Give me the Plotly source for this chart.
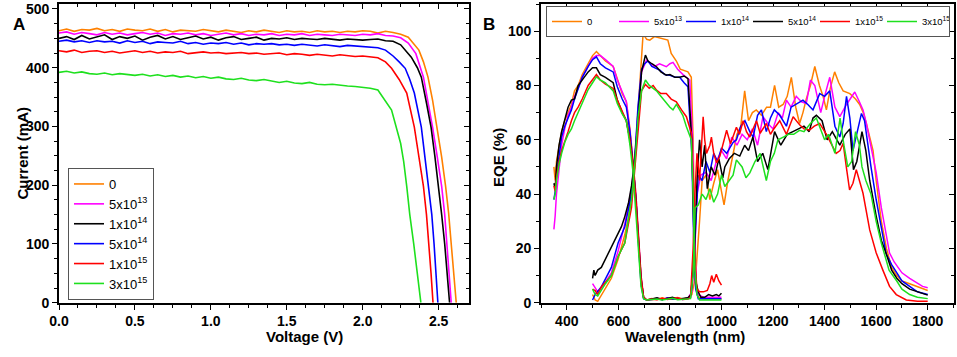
import plotly.graph_objects as go

W, H = 957, 357

# ---------------- Panel A: I-V curves ----------------
volt_plateau = [0.00, 0.05, 0.10, 0.15, 0.20, 0.25, 0.30, 0.35, 0.40, 0.45,
                0.50, 0.55, 0.60, 0.65, 0.70, 0.75, 0.80, 0.85, 0.90, 0.95,
                1.00, 1.05, 1.10, 1.15, 1.20, 1.25, 1.30, 1.35, 1.40, 1.45,
                1.50, 1.55, 1.60, 1.65, 1.70, 1.75, 1.80, 1.85, 1.90, 1.95, 2.00]

cur_0 = [463, 466, 462, 465, 464, 467, 463, 465, 462, 466, 464, 463, 466, 462, 465, 461, 464, 463, 462, 465,
         463, 461, 464, 462, 460, 463, 461, 464, 462, 460, 463, 461, 462, 460, 463, 461, 462, 460, 462, 461, 463]
cur_5e13 = [459, 461, 457, 460, 458, 456, 460, 457, 459, 456, 458, 460, 457, 459, 455, 458, 457, 459, 456, 458,
            455, 457, 459, 456, 458, 455, 457, 456, 458, 455, 457, 456, 458, 455, 457, 456, 455, 457, 456, 455, 457]
cur_1e14 = [450, 453, 448, 455, 449, 452, 456, 448, 453, 450, 454, 447, 452, 455, 449, 453, 448, 451, 454, 449,
            452, 447, 451, 453, 448, 450, 452, 447, 450, 449, 451, 448, 450, 449, 448, 450, 449, 447, 449, 448, 447]
cur_5e14 = [445, 447, 444, 446, 443, 446, 444, 445, 442, 446, 443, 445, 441, 444, 443, 442, 445, 441, 443, 440,
            442, 441, 443, 440, 442, 439, 441, 440, 441, 439, 440, 438, 440, 439, 437, 439, 438, 436, 438, 437, 436]
cur_1e15 = [429, 427, 430, 426, 428, 429, 426, 428, 425, 427, 429, 426, 428, 425, 427, 426, 428, 424, 426, 427,
            425, 426, 424, 425, 426, 424, 425, 423, 424, 425, 422, 424, 423, 421, 423, 422, 420, 422, 421, 419, 420]
cur_3e15 = [392, 394, 391, 393, 390, 389, 391, 388, 390, 389, 387, 389, 386, 388, 385, 387, 384, 386, 383, 385,
            382, 384, 381, 380, 382, 379, 378, 380, 377, 375, 377, 374, 373, 375, 372, 371, 372, 370, 369, 368, 367]

knee_0 = [(2.05, 462), (2.10, 459), (2.15, 462), (2.20, 460), (2.25, 457), (2.30, 452), (2.34, 440), (2.37, 430),
          (2.40, 410), (2.43, 384), (2.46, 345), (2.49, 299), (2.52, 248), (2.546, 198), (2.566, 152),
          (2.583, 100), (2.60, 49), (2.616, 0)]
knee_5e13 = [(2.05, 456), (2.10, 458), (2.15, 455), (2.20, 454), (2.25, 451), (2.30, 442), (2.35, 424), (2.40, 384),
             (2.43, 342), (2.46, 299), (2.49, 250), (2.52, 198), (2.54, 150), (2.555, 100), (2.57, 50), (2.583, 0)]
knee_1e14 = [(2.05, 448), (2.10, 449), (2.15, 446), (2.20, 445), (2.25, 439), (2.29, 428), (2.32, 418), (2.36, 400),
             (2.386, 384), (2.42, 340), (2.45, 299), (2.475, 250), (2.50, 198), (2.52, 150), (2.54, 100),
             (2.557, 50), (2.572, 0)]
knee_5e14 = [(2.05, 436), (2.10, 434), (2.15, 430), (2.20, 420), (2.24, 410), (2.28, 399), (2.31, 380), (2.34, 357),
             (2.386, 299), (2.41, 250), (2.436, 198), (2.455, 150), (2.47, 100), (2.483, 50), (2.495, 0)]
knee_1e15 = [(2.05, 419), (2.10, 417), (2.15, 410), (2.19, 399), (2.24, 380), (2.29, 357), (2.34, 299), (2.37, 250),
             (2.40, 198), (2.42, 150), (2.436, 100), (2.45, 50), (2.463, 0)]
knee_3e15 = [(2.05, 365), (2.10, 362), (2.13, 350), (2.19, 328), (2.25, 271), (2.27, 240), (2.29, 198), (2.31, 150),
             (2.336, 100), (2.36, 50), (2.383, 0)]

# ---------------- Panel B: EQE ----------------
wl_top = [350, 355, 360, 370, 380, 392, 405, 418, 430, 444, 460, 483, 500, 515, 530, 550, 580, 596, 615, 631,
          645, 657, 668, 678, 688, 698, 710, 730, 750, 770, 790, 810, 830, 850, 870]
eqe_top_0 = [50, 45, 52, 58, 63, 67, 70, 73, 78, 80, 84, 88, 91, 92.5, 91, 89, 87, 82, 77, 74,
             64, 52, 40, 25, 10, 2, 1, 1.5, 1.2, 1.8, 1.3, 1.6, 1.9, 1.4, 1.8]
eqe_top_5e13 = [27, 32, 40, 50, 58, 64, 69, 72, 76, 79, 83, 87, 90, 91, 91, 89.5, 87, 82, 78, 74,
                63, 52, 40, 25, 10, 2, 1, 1.3, 1.6, 1.2, 1.8, 1.4, 1.6, 1.3, 1.7]
eqe_top_1e14 = [38, 41, 47, 55, 61, 65, 68, 71, 75, 79, 83, 87, 89.5, 90.5, 88, 86.5, 85, 79.5, 75, 72,
                63, 51, 38, 22, 7, 1.5, 1, 1.2, 1.5, 1.1, 1.7, 1.3, 1.5, 1.2, 1.6]
eqe_top_5e14 = [44, 42, 50, 58, 63, 67, 72, 74.6, 75, 80, 82, 85, 86.5, 86.5, 84, 83, 81, 74.6, 70, 67,
                60, 51, 38, 23, 9, 2, 1, 1.4, 1.8, 1.2, 1.5, 2, 1.3, 1.5, 1.8]
eqe_top_1e15 = [43, 41, 46, 52, 56, 59, 63, 67, 70, 72, 75, 80, 82, 84, 82, 80.5, 78.9, 74.6, 70.5, 67,
                60, 51, 38, 23, 9, 2, 1, 1.3, 1.1, 1.6, 1.2, 1.5, 1.8, 1.2, 1.4]
eqe_top_3e15 = [38, 40, 45, 51, 55, 59, 62, 64, 67, 70, 74, 78.5, 81, 83.2, 82, 81, 78, 73.4, 69.5, 67,
                58, 48, 33, 18, 6, 1.5, 1, 1.2, 1.4, 1, 1.3, 1.6, 1.1, 1.3, 1.5]

bot_0 = [(885, 3), (900, 10), (915, 30), (925, 45), (940, 47), (955, 38), (970, 44), (985, 49), (1000, 41),
         (1010, 36), (1025, 45), (1040, 52), (1060, 62), (1075, 65), (1090, 78), (1105, 67), (1120, 70),
         (1135, 71), (1155, 69), (1175, 72), (1190, 72), (1206, 80), (1222, 72), (1239, 73), (1255, 76),
         (1271, 83), (1288, 72), (1303, 66), (1316, 70), (1329, 75), (1345, 80), (1362, 87), (1380, 80),
         (1394, 76), (1407, 71), (1422, 79), (1439, 85), (1455, 81), (1472, 78), (1498, 77), (1520, 75),
         (1536, 73), (1550, 70), (1562, 66), (1575, 61), (1588, 56), (1600, 45), (1620, 30), (1640, 20),
         (1660, 13), (1680, 10), (1700, 8), (1730, 7), (1760, 6), (1800, 4.5)]
bot_5e13 = [(885, 4), (895, 15), (905, 40), (920, 47), (940, 48), (960, 45), (980, 52), (1000, 56), (1020, 53),
            (1040, 61), (1060, 58), (1080, 62), (1100, 60), (1120, 64), (1140, 58), (1161, 68.5), (1180, 66),
            (1200, 64), (1220, 70), (1236, 68), (1252, 74.6), (1270, 72), (1290, 76), (1310, 74), (1329, 73.4),
            (1345, 82), (1362, 80), (1385, 70), (1400, 76), (1420, 83), (1440, 72), (1459, 68.5), (1485, 73),
            (1517, 77.6), (1535, 74), (1549, 71), (1562, 66), (1575, 60), (1590, 52), (1600, 48), (1620, 35),
            (1640, 24), (1652, 18.3), (1670, 15), (1700, 11), (1730, 9), (1760, 7), (1780, 6), (1800, 5.5)]
bot_1e14 = [(880, 2), (893, 15), (902, 35), (910, 47), (925, 45), (940, 52), (955, 48), (970, 55), (985, 52),
            (1000, 57), (1020, 55), (1045, 59), (1058, 60), (1075, 65), (1091, 67), (1110, 63), (1123, 61),
            (1140, 69), (1155, 71), (1174, 63), (1190, 68), (1205, 71), (1226, 69), (1252, 65), (1270, 72),
            (1290, 73), (1316, 74.6), (1335, 73), (1355, 71), (1381, 77), (1400, 76), (1420, 78), (1440, 65),
            (1459, 61), (1472, 66), (1485, 76), (1498, 68), (1510, 56), (1525, 62), (1543, 69.7), (1555, 67),
            (1562, 62), (1580, 50), (1600, 38), (1620, 27), (1639, 18), (1660, 14), (1680, 11), (1700, 8),
            (1730, 6), (1760, 4), (1800, 3)]
bot_5e14 = [(882, 3), (895, 20), (905, 45), (915, 60), (925, 50), (935, 58), (945, 42), (960, 50), (975, 47),
            (990, 53), (1005, 46), (1013, 50), (1030, 53), (1050, 55), (1071, 54), (1090, 58), (1105, 56),
            (1122, 61), (1140, 52), (1160, 55), (1180, 49), (1206, 63), (1230, 58), (1255, 62), (1277, 63),
            (1300, 64), (1320, 65), (1340, 63), (1355, 68), (1368, 69), (1390, 67), (1410, 60), (1430, 63),
            (1459, 58), (1480, 62), (1498, 64), (1512, 49), (1525, 52), (1545, 63), (1560, 56), (1575, 45),
            (1600, 32), (1620, 23), (1639, 18), (1660, 12), (1680, 9), (1700, 7), (1730, 5), (1760, 4), (1800, 2.8)]
bot_1e15 = [(880, 2), (890, 20), (897, 40), (905, 55), (915, 45), (922, 55), (929, 68.5), (935, 60), (942, 55),
            (955, 58), (961, 61), (970, 55), (981, 51.5), (994, 54), (1010, 60), (1020, 63.5), (1035, 58.5),
            (1058, 64.6), (1070, 62), (1084, 67), (1097, 63), (1110, 61), (1123, 64), (1136, 67), (1150, 62.4),
            (1174, 66), (1190, 62), (1200, 63.6), (1226, 67), (1252, 62), (1278, 68.5), (1304, 65.4), (1320, 64),
            (1342, 63.6), (1360, 65), (1381, 66), (1407, 62), (1433, 57.5), (1445, 55), (1460, 56), (1472, 58.7),
            (1485, 49.5), (1497, 41.5), (1510, 44), (1523, 49), (1535, 45), (1549, 40.3), (1575, 26.8),
            (1600, 18.4), (1626, 12), (1652, 6), (1678, 3), (1717, 1), (1760, 0.5), (1800, 0.5)]
bot_3e15 = [(880, 1.5), (890, 10), (898, 35), (910, 36), (925, 40), (940, 38), (955, 42), (970, 37), (985, 40),
            (1000, 47), (1013, 42.8), (1030, 45), (1045, 47), (1058, 52.6), (1080, 50), (1095, 46), (1110, 47.8),
            (1130, 52), (1150, 55), (1174, 45), (1190, 52), (1205, 55), (1219, 60), (1240, 61), (1260, 62),
            (1280, 62), (1303, 63.5), (1320, 63), (1345, 66), (1368, 68), (1385, 64), (1400, 60), (1415, 62),
            (1440, 55), (1460, 68), (1475, 58), (1490, 50), (1505, 52), (1520, 63), (1535, 58), (1545, 50),
            (1560, 45), (1580, 40), (1600, 30), (1620, 22), (1632, 18), (1650, 12), (1680, 8), (1700, 5),
            (1730, 3), (1760, 2), (1800, 1.5)]

mid_0 = [(500, 3), (510, 1), (520, 0.5), (535, 3), (550, 5), (573, 9), (599, 16), (625, 25), (640, 32), (651, 40),
         (663, 50), (676, 70), (688, 90), (696, 99), (710, 97), (722, 96.7), (740, 98), (760, 97.5), (775, 97),
         (792, 96.7), (805, 91.8), (825, 89), (840, 86), (851, 85.6), (870, 85), (883, 83), (890, 60), (897, 20),
         (903, 5), (910, 2), (930, 1.5), (960, 1.5), (1000, 1.5)]
mid_5e13 = [(500, 7), (520, 4), (540, 6), (573, 11), (599, 19), (625, 29), (651, 42), (663, 52), (676, 70),
            (690, 85), (709, 89.3), (725, 88), (740, 87), (760, 88), (786, 86.9), (800, 88), (812, 88.5), (830, 86),
            (851, 84), (877, 82), (888, 60), (895, 25), (903, 6), (910, 3), (930, 2), (960, 2), (1000, 2)]
mid_1e14 = [(500, 1), (510, 3), (535, 6), (573, 13), (599, 22), (625, 28), (651, 40), (663, 52), (676, 72),
            (690, 86), (702, 88), (715, 89), (730, 87), (760, 85.7), (780, 84), (798, 83.8), (820, 83), (838, 83),
            (855, 81), (870, 79.5), (885, 55), (893, 20), (900, 5), (910, 1.5), (930, 1.5), (960, 1.5), (1000, 1.5)]
mid_5e14 = [(500, 9), (505, 12), (510, 10), (520, 12), (534, 13), (550, 16), (573, 20.7), (585, 23), (599, 25.7),
            (612, 28), (625, 31.7), (640, 37), (651, 43), (663, 52), (676, 67), (690, 85), (705, 91.2), (715, 89),
            (730, 88), (748, 86.9), (765, 85), (786, 83.8), (800, 84), (820, 83), (838, 83), (855, 83.5),
            (870, 82.5), (885, 60), (893, 25), (900, 8), (910, 4), (920, 2), (935, 2), (950, 3), (965, 2.5),
            (980, 3), (990, 2.5), (1000, 3.5)]
mid_1e15 = [(500, 5), (510, 4.5), (520, 3), (535, 6), (550, 7.5), (573, 10), (599, 17), (625, 22), (651, 35),
            (663, 48), (676, 65), (690, 78), (705, 80.4), (720, 79), (735, 80), (748, 78.3), (765, 77), (786, 77),
            (805, 75), (825, 74), (845, 71), (864, 68.5), (883, 62.5), (890, 45), (897, 15), (905, 5), (915, 4),
            (930, 4), (945, 4.5), (955, 7), (962, 10), (970, 7.5), (980, 10.5), (990, 8), (1000, 6.5)]
mid_3e15 = [(500, 5), (510, 3), (520, 2.5), (535, 5), (550, 7), (573, 10), (599, 17), (625, 22), (651, 38),
            (663, 50), (676, 68), (690, 78), (705, 82), (720, 80), (735, 79), (748, 78), (765, 76), (786, 73.5),
            (800, 72), (812, 71), (825, 73), (838, 71), (850, 69), (864, 64.8), (883, 60), (890, 40), (897, 12),
            (905, 3), (915, 1), (940, 1), (970, 1), (1000, 1)]

ORANGE, MAGENTA, BLACK, BLUE, RED, GREEN = "#FF8000", "#FF00FF", "#000000", "#0000FF", "#FF0000", "#1EE01E"

labels = {
    "0": "0",
    "5e13": "5x10<sup>13</sup>",
    "1e14": "1x10<sup>14</sup>",
    "5e14": "5x10<sup>14</sup>",
    "1e15": "1x10<sup>15</sup>",
    "3e15": "3x10<sup>15</sup>",
}

fig = go.Figure()

iv_series = [
    ("0", cur_0, knee_0, ORANGE),
    ("5e13", cur_5e13, knee_5e13, MAGENTA),
    ("1e14", cur_1e14, knee_1e14, BLACK),
    ("5e14", cur_5e14, knee_5e14, BLUE),
    ("1e15", cur_1e15, knee_1e15, RED),
    ("3e15", cur_3e15, knee_3e15, GREEN),
]
for key, cur, knee, col in iv_series:
    xs = list(volt_plateau) + [p[0] for p in knee]
    ys = list(cur) + [p[1] for p in knee]
    fig.add_trace(go.Scatter(x=xs, y=ys, mode="lines", name=labels[key],
                             line=dict(color=col, width=1.6),
                             xaxis="x", yaxis="y", legend="legend"))

eqe_series = [
    ("0", eqe_top_0, bot_0, mid_0, ORANGE),
    ("5e13", eqe_top_5e13, bot_5e13, mid_5e13, MAGENTA),
    ("1e14", eqe_top_1e14, bot_1e14, mid_1e14, BLUE),
    ("5e14", eqe_top_5e14, bot_5e14, mid_5e14, BLACK),
    ("1e15", eqe_top_1e15, bot_1e15, mid_1e15, RED),
    ("3e15", eqe_top_3e15, bot_3e15, mid_3e15, GREEN),
]
for key, top, bot, mid, col in eqe_series:
    xs = list(wl_top) + [p[0] for p in bot] + [None] + [p[0] for p in mid]
    ys = list(top) + [p[1] for p in bot] + [None] + [p[1] for p in mid]
    fig.add_trace(go.Scatter(x=xs, y=ys, mode="lines", name=labels[key],
                             line=dict(color=col, width=1.5), connectgaps=False,
                             xaxis="x2", yaxis="y2", legend="legend2"))

# dummy traces to activate mirror axes with inward ticks
fig.add_trace(go.Scatter(x=[None], y=[None], xaxis="x3", yaxis="y3", showlegend=False, hoverinfo="skip"))
fig.add_trace(go.Scatter(x=[None], y=[None], xaxis="x4", yaxis="y4", showlegend=False, hoverinfo="skip"))

FONT = "Liberation Sans, Arial, sans-serif"
tickfont = dict(family=FONT, size=14, color="black", weight="bold")


def px(x):
    return x / W


def py(y):
    return 1 - y / H


y_dom = [py(302.7), py(4)]
xA = [px(59), px(469)]
xB = [px(541), px(953.5)]

axis_common = dict(showgrid=False, zeroline=False, showline=True, linecolor="black", linewidth=1.6,
                   ticks="outside", ticklen=5, tickwidth=1.4, tickcolor="black", tickfont=tickfont,
                   automargin=False, fixedrange=True)
mirror_common = dict(showticklabels=False, showgrid=False, zeroline=False, showline=True, linecolor="black",
                     linewidth=1.6, ticks="inside", ticklen=5, tickwidth=1.4, tickcolor="black",
                     fixedrange=True, automargin=False)

fig.update_layout(
    width=W, height=H, margin=dict(l=0, r=0, t=0, b=0, autoexpand=False),
    paper_bgcolor="white", plot_bgcolor="white", showlegend=True,
    xaxis=dict(domain=xA, range=[0, 2.7], dtick=0.5, tick0=0, tickformat=".1f", anchor="y",
               minor=dict(dtick=0.125, ticks="outside", ticklen=3, tickwidth=1.2, tickcolor="black"),
               **axis_common),
    yaxis=dict(domain=y_dom, range=[0, 508.5], dtick=100, tick0=0, anchor="x",
               minor=dict(dtick=25, ticks="outside", ticklen=3, tickwidth=1.2, tickcolor="black"),
               **axis_common),
    xaxis3=dict(overlaying="x", side="top", anchor="y", range=[0, 2.7], dtick=0.5, tick0=0,
                minor=dict(dtick=0.125, ticks="inside", ticklen=3, tickwidth=1.2, tickcolor="black"),
                **mirror_common),
    yaxis3=dict(overlaying="y", side="right", anchor="x3", range=[0, 508.5], dtick=100, tick0=0,
                minor=dict(dtick=25, ticks="inside", ticklen=3, tickwidth=1.2, tickcolor="black"),
                **mirror_common),
    xaxis2=dict(domain=xB, range=[300, 1900], dtick=200, tick0=0, anchor="y2",
                minor=dict(dtick=100, ticks="outside", ticklen=3, tickwidth=1.2, tickcolor="black"),
                **axis_common),
    yaxis2=dict(domain=y_dom, range=[0, 110], dtick=20, tick0=0, anchor="x2",
                minor=dict(dtick=10, ticks="outside", ticklen=3, tickwidth=1.2, tickcolor="black"),
                **axis_common),
    xaxis4=dict(overlaying="x2", side="top", anchor="y2", range=[300, 1900], dtick=200, tick0=0,
                minor=dict(dtick=100, ticks="inside", ticklen=3, tickwidth=1.2, tickcolor="black"),
                **mirror_common),
    yaxis4=dict(overlaying="y2", side="right", anchor="x4", range=[0, 110], dtick=20, tick0=0,
                minor=dict(dtick=10, ticks="inside", ticklen=3, tickwidth=1.2, tickcolor="black"),
                **mirror_common),
    legend=dict(x=px(68), y=py(168), xanchor="left", yanchor="top", bgcolor="white",
                bordercolor="#555555", borderwidth=1, tracegroupgap=0,
                font=dict(family=FONT, size=13, color="black"), itemwidth=30),
    legend2=dict(orientation="h", x=px(546), y=py(6), xanchor="left", yanchor="top", bgcolor="white",
                 bordercolor="#555555", borderwidth=1, entrywidth=22, entrywidthmode="pixels",
                 font=dict(family=FONT, size=9.5, color="black"), itemwidth=30),
)

ann_font = dict(family=FONT, size=15, color="black", weight="bold")
annotations = [
    dict(text="A", x=px(11), y=py(13), xref="paper", yref="paper", showarrow=False,
         font=dict(family=FONT, size=17, color="black", weight="bold")),
    dict(text="B", x=px(489), y=py(13), xref="paper", yref="paper", showarrow=False,
         font=dict(family=FONT, size=17, color="black", weight="bold")),
    dict(text="Current (mA)", x=px(11), y=py(153), xref="paper", yref="paper", showarrow=False,
         textangle=-90, font=ann_font),
    dict(text="Voltage (V)", x=px(264), y=py(347), xref="paper", yref="paper", showarrow=False, font=ann_font),
    dict(text="EQE (%)", x=px(498), y=py(158), xref="paper", yref="paper", showarrow=False,
         textangle=-90, font=ann_font),
    dict(text="Wavelength (nm)", x=px(747), y=py(347), xref="paper", yref="paper", showarrow=False,
         font=ann_font),
]
fig.update_layout(annotations=annotations)

fig.write_html("out.html",
               config={"displayModeBar": False},
               post_script="document.body.style.margin='0px';document.body.style.padding='0px';"
                           "document.body.style.overflow='hidden';")
